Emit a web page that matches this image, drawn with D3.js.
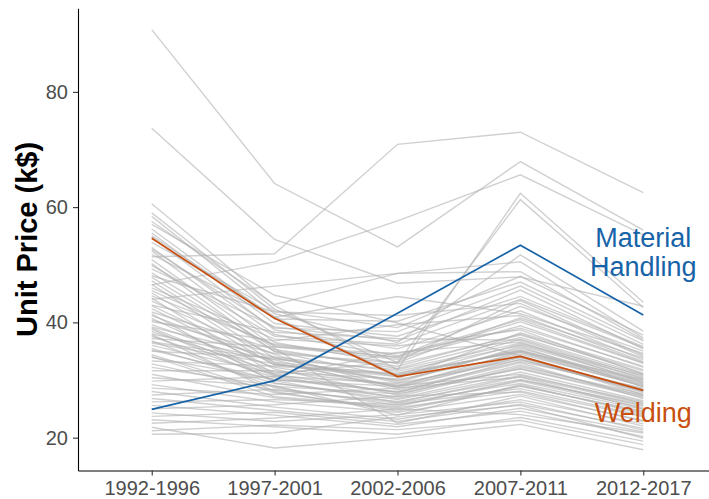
<!DOCTYPE html>
<html>
<head>
<meta charset="utf-8">
<script src="https://cdn.jsdelivr.net/npm/d3@7"></script>
<style>
  body { margin: 0; background: #fff; }
  svg { display: block; font-family: "Liberation Sans", Arial, sans-serif; }
</style>
</head>
<body>
<svg id="viz" width="709" height="499"></svg>
<script>
// periods on the x axis
var periods = ["1992-1996", "1997-2001", "2002-2006", "2007-2011", "2012-2017"];
var yTicks = [20, 40, 60, 80];

// highlighted series
var materialHandling = [24.9, 29.9, 41.6, 53.4, 41.3];
var welding = [54.6, 40.7, 30.6, 34.1, 28.2];

// all other applications (grey background lines)
var others = [
    [90.8, 64.1, 53.1, 67.9, 56.0],
    [73.7, 54.4, 46.8, 47.9, 42.8],
    [51.4, 51.9, 70.9, 73.0, 62.5],
    [46.5, 50.5, 57.6, 65.6, 55.2],
    [60.6, 42.9, 31.8, 62.4, 43.5],
    [59.0, 42.3, 33.0, 61.3, 42.6],
    [58.4, 41.5, 36.5, 51.7, 38.5],
    [57.5, 43.1, 48.5, 50.5, 37.3],
    [44.0, 46.3, 48.5, 48.8, 37.0],
    [56.2, 40.6, 40.2, 47.0, 36.8],
    [55.5, 39.8, 37.6, 44.5, 35.8],
    [54.8, 38.7, 35.4, 42.0, 33.5],
    [53.9, 42.0, 39.1, 48.0, 37.8],
    [53.0, 37.9, 34.2, 40.5, 33.0],
    [52.4, 36.5, 32.8, 37.8, 31.6],
    [51.8, 40.9, 44.5, 41.5, 34.6],
    [50.9, 35.8, 33.6, 39.4, 32.2],
    [50.2, 34.9, 30.5, 36.2, 30.4],
    [49.3, 39.2, 36.8, 45.6, 35.4],
    [48.1, 41.8, 41.2, 43.3, 34.0],
    [47.2, 33.8, 29.8, 35.5, 29.7],
    [46.0, 37.1, 35.9, 38.7, 31.0],
    [45.1, 32.6, 31.2, 34.8, 28.9],
    [44.6, 36.2, 33.9, 40.1, 32.9],
    [43.7, 34.4, 28.6, 33.9, 27.8],
    [43.0, 38.3, 37.2, 36.9, 30.2],
    [42.4, 31.9, 27.4, 32.6, 27.2],
    [41.8, 35.3, 32.0, 37.4, 30.9],
    [41.2, 33.1, 30.9, 35.1, 29.3],
    [40.7, 30.8, 26.8, 31.4, 26.4],
    [40.1, 36.8, 39.6, 41.2, 33.2],
    [39.6, 32.2, 29.1, 34.2, 28.1],
    [39.2, 34.0, 31.5, 36.0, 30.0],
    [38.8, 29.9, 26.1, 30.6, 25.9],
    [38.4, 31.4, 30.2, 38.2, 31.8],
    [38.0, 33.5, 28.3, 33.2, 28.6],
    [37.6, 30.4, 27.9, 31.9, 27.0],
    [37.2, 35.7, 34.6, 39.0, 32.4],
    [36.8, 28.7, 25.6, 29.8, 25.2],
    [36.4, 32.8, 30.0, 34.5, 29.0],
    [36.0, 31.1, 33.2, 43.8, 34.3],
    [35.5, 29.4, 27.1, 32.3, 27.6],
    [35.0, 33.9, 29.5, 35.8, 28.8],
    [34.4, 27.8, 24.9, 28.9, 24.6],
    [33.9, 30.1, 28.0, 33.0, 26.8],
    [33.3, 32.4, 31.0, 37.1, 30.6],
    [32.8, 28.2, 26.3, 30.1, 25.5],
    [32.2, 29.0, 23.9, 29.2, 24.1],
    [31.6, 31.6, 29.0, 31.0, 26.0],
    [31.0, 26.9, 25.2, 28.1, 23.6],
    [30.4, 28.9, 27.6, 32.0, 27.3],
    [29.8, 30.6, 34.8, 36.6, 29.6],
    [29.2, 26.2, 24.4, 27.5, 23.0],
    [28.6, 27.5, 28.6, 30.5, 25.0],
    [28.0, 25.3, 23.2, 26.6, 22.4],
    [27.4, 28.4, 26.0, 29.4, 24.9],
    [26.8, 24.7, 22.8, 25.8, 21.6],
    [26.2, 26.6, 25.8, 28.5, 23.8],
    [25.6, 23.9, 21.9, 25.1, 21.0],
    [25.0, 25.7, 27.2, 27.9, 22.8],
    [24.3, 22.8, 24.0, 26.2, 21.3],
    [23.7, 24.4, 22.3, 24.6, 20.2],
    [23.1, 21.9, 20.6, 23.5, 19.4],
    [22.5, 23.4, 25.0, 24.0, 20.8],
    [21.8, 18.2, 20.0, 22.3, 17.9],
    [21.2, 22.2, 21.4, 23.0, 18.8],
    [20.6, 20.8, 23.6, 25.6, 19.9],
    [47.8, 35.0, 32.4, 38.0, 31.2],
    [46.6, 33.0, 28.8, 34.0, 28.4],
    [45.5, 36.0, 34.0, 42.8, 35.0],
    [44.2, 31.0, 27.8, 33.6, 28.0],
    [42.9, 32.7, 30.6, 35.2, 29.5],
    [41.5, 29.5, 26.6, 30.8, 26.2],
    [40.4, 34.6, 33.0, 40.8, 33.8],
    [39.0, 30.7, 29.4, 33.5, 28.3],
    [37.9, 28.0, 24.6, 29.0, 24.4],
    [36.6, 33.6, 31.8, 36.4, 30.8],
    [35.2, 30.0, 28.9, 34.9, 29.2],
    [34.1, 27.1, 25.4, 30.0, 25.7],
    [52.7, 39.0, 38.4, 46.3, 36.2],
    [49.9, 37.6, 36.2, 44.0, 35.6],
    [55.0, 41.0, 30.8, 35.0, 30.0],
    [57.0, 44.7, 39.9, 34.2, 27.4],
    [48.6, 35.5, 22.5, 27.2, 22.0]
];

var blue = "#1763a8";
var orange = "#c84f10";

var svg = d3.select("#viz");

var x = d3.scalePoint()
    .domain(periods)
    .range([78, 717])
    .padding(0.6);

var y = d3.scaleLinear()
    .domain([14.3, 94.5])
    .range([470.5, 8.3]);

var line = d3.line()
    .x(function (d, i) { return x(periods[i]); })
    .y(function (d) { return y(d); });

// grey lines
svg.append("g").attr("class", "others")
    .selectAll("path")
    .data(others)
    .enter()
    .append("path")
    .attr("d", line)
    .attr("fill", "none")
    .attr("stroke", "#b0b0b0")
    .attr("stroke-opacity", 0.6)
    .attr("stroke-width", 1.4);

// highlighted lines
svg.append("path")
    .attr("d", line(welding))
    .attr("fill", "none")
    .attr("stroke", orange)
    .attr("stroke-width", 1.7);

svg.append("path")
    .attr("d", line(materialHandling))
    .attr("fill", "none")
    .attr("stroke", blue)
    .attr("stroke-width", 1.7);

// axes
var yAxis = svg.append("g")
    .attr("transform", "translate(78,0)")
    .call(d3.axisLeft(y).tickValues(yTicks).tickSize(5).tickSizeOuter(0).tickPadding(5));

var xAxis = svg.append("g")
    .attr("transform", "translate(0,470.5)")
    .call(d3.axisBottom(x).tickSize(5).tickSizeOuter(0).tickPadding(5));

[yAxis, xAxis].forEach(function (ax) {
    ax.select(".domain").attr("stroke", "#000").attr("stroke-width", 1.1);
    ax.selectAll(".tick line").attr("stroke", "#333").attr("stroke-width", 1.1);
    ax.selectAll(".tick text")
        .attr("fill", "#4d4d4d")
        .style("font-size", "20px")
        .style("font-family", "'Liberation Sans', Arial, sans-serif");
});

// y axis title
svg.append("text")
    .attr("transform", "translate(37," + (y(14.3) + y(94.5)) / 2 + ") rotate(-90)")
    .attr("text-anchor", "middle")
    .style("font-size", "29px")
    .style("font-weight", "bold")
    .attr("fill", "#000")
    .text("Unit Price (k$)");

// direct labels at the last period
var lastX = x(periods[periods.length - 1]);
var mh = svg.append("text")
    .attr("text-anchor", "middle")
    .attr("fill", blue)
    .style("font-size", "27px");
mh.append("tspan").attr("x", lastX).attr("y", 247).text("Material");
mh.append("tspan").attr("x", lastX).attr("y", 276).text("Handling");

svg.append("text")
    .attr("x", lastX)
    .attr("y", 422)
    .attr("text-anchor", "middle")
    .attr("fill", orange)
    .style("font-size", "27px")
    .text("Welding");
</script>
</body>
</html>
